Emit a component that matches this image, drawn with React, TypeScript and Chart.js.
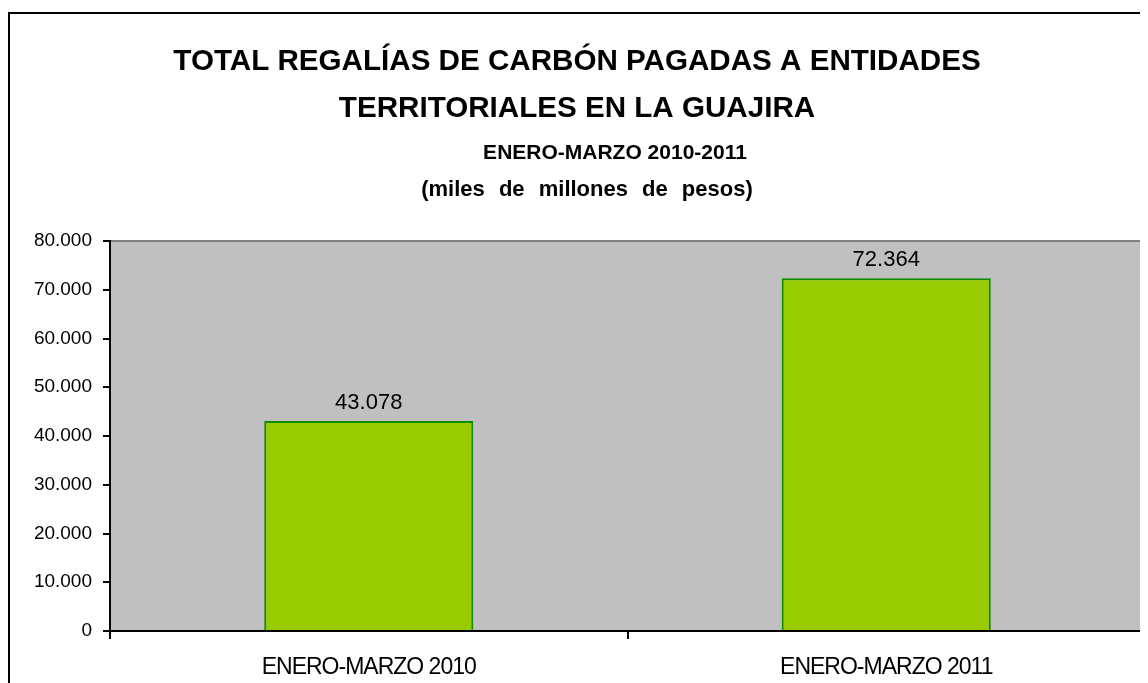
import React, { useEffect, useRef } from "react";
import { Chart, registerables } from "chart.js";

Chart.register(...registerables);

const categories = ["ENERO-MARZO 2010", "ENERO-MARZO 2011"];
const values = [43078, 72364];
const yTicks = [0, 10000, 20000, 30000, 40000, 50000, 60000, 70000, 80000];
const titleLines = ["TOTAL REGALÍAS DE CARBÓN PAGADAS A ENTIDADES", "TERRITORIALES EN LA GUAJIRA"];
const subtitleLines = ["ENERO-MARZO 2010-2011", "(miles de millones de pesos)"];

const FONT = "'Liberation Sans', Arial, sans-serif";

function fmt(v: number): string {
  return Math.round(v).toString().replace(/\B(?=(\d{3})+(?!\d))/g, ".");
}

const decorPlugin = {
  id: "decor",
  beforeDraw(chart: any) {
    const ctx = chart.ctx;
    const a = chart.chartArea;
    ctx.save();
    ctx.fillStyle = "#ffffff";
    ctx.fillRect(0, 0, chart.width, chart.height);
    // outer chart border
    ctx.strokeStyle = "#000000";
    ctx.lineWidth = 2;
    ctx.strokeRect(1, 5, chart.width + 20, chart.height + 20);
    // plot area
    ctx.fillStyle = "#C0C0C0";
    ctx.fillRect(a.left, a.top, a.right - a.left, a.bottom - a.top);
    ctx.strokeStyle = "#808080";
    ctx.lineWidth = 2;
    ctx.strokeRect(a.left, a.top, a.right - a.left, a.bottom - a.top);
    ctx.restore();
  },
  afterDraw(chart: any) {
    const ctx = chart.ctx;
    const a = chart.chartArea;
    ctx.save();
    // right-end tick of the category axis
    ctx.strokeStyle = "#000000";
    ctx.lineWidth = 2;
    ctx.beginPath();
    ctx.moveTo(a.right, a.bottom);
    ctx.lineTo(a.right, a.bottom + 8);
    ctx.stroke();

    ctx.fillStyle = "#000000";
    ctx.textAlign = "center";
    ctx.textBaseline = "alphabetic";
    ctx.font = `bold 29.6px ${FONT}`;
    ctx.fillText(titleLines[0], 569, 62);
    ctx.fillText(titleLines[1], 569, 109);
    ctx.font = `bold 21px ${FONT}`;
    ctx.fillText(subtitleLines[0], 607, 151);
    ctx.font = `bold 22px ${FONT}`;
    (ctx as any).wordSpacing = "8px";
    ctx.fillText(subtitleLines[1], 579, 188);
    (ctx as any).wordSpacing = "0px";

    // data labels
    const meta = chart.getDatasetMeta(0);
    ctx.font = `22px ${FONT}`;
    meta.data.forEach((bar: any, i: number) => {
      ctx.fillText(fmt(values[i]), bar.x, bar.y - 12);
    });

    // x labels (condensed)
    const xs = chart.scales.x;
    ctx.font = `23px ${FONT}`;
    (ctx as any).letterSpacing = "-1px";
    categories.forEach((c, i) => {
      const x = xs.getPixelForValue(i);
      ctx.fillText(c, x, 666);
    });
    (ctx as any).letterSpacing = "0px";
    ctx.restore();
  },
};

export default function App() {
  const ref = useRef<HTMLCanvasElement | null>(null);
  useEffect(() => {
    document.documentElement.style.overflow = "hidden";
    document.body.style.overflow = "hidden";
    if (!ref.current) return;
    const chart = new Chart(ref.current, {
      type: "bar",
      data: {
        labels: categories,
        datasets: [
          {
            data: values,
            backgroundColor: "#99CC00",
            borderColor: "#108A00",
            borderWidth: 2,
            categoryPercentage: 1,
            barPercentage: 0.404,
          },
        ],
      },
      options: {
        responsive: false,
        animation: false,
        devicePixelRatio: 1,
        layout: { padding: { left: 0, top: 233, right: 3, bottom: 0 } },
        plugins: {
          legend: { display: false },
          title: { display: false },
          tooltip: { enabled: false },
        },
        scales: {
          x: {
            offset: true,
            grid: {
              display: true,
              drawOnChartArea: false,
              drawTicks: true,
              tickLength: 8,
              color: "#000000",
              lineWidth: 2,
              offset: true,
            },
            border: { display: true, color: "#000000", width: 2 },
            ticks: { display: false },
            afterFit: (s: any) => {
              s.height = 52;
            },
          },
          y: {
            min: 0,
            max: 80000,
            afterBuildTicks: (s: any) => {
              s.ticks = yTicks.map((v) => ({ value: v }));
            },
            grid: {
              display: true,
              drawOnChartArea: false,
              drawTicks: true,
              tickLength: 7,
              color: "#000000",
              lineWidth: 2,
            },
            border: { display: true, color: "#000000", width: 2 },
            ticks: {
              color: "#000000",
              font: { family: FONT, size: 19 },
              padding: 11,
              callback: (v: any) => fmt(Number(v)),
            },
            afterFit: (s: any) => {
              s.width = 102;
            },
          },
        },
      },
      plugins: [decorPlugin],
    });
    return () => chart.destroy();
  }, []);
  return (
    <canvas
      ref={ref}
      width={1140}
      height={675}
      style={{ display: "block", width: 1140, height: 675 }}
    />
  );
}
